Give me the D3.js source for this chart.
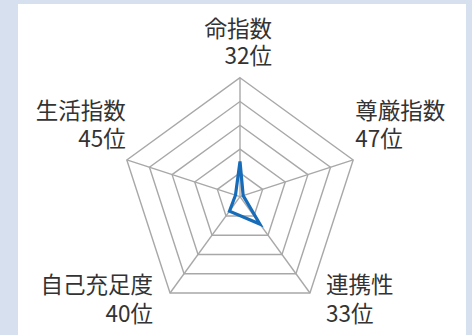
<!DOCTYPE html>
<html>
<head>
<meta charset="utf-8">
<script src="https://cdn.jsdelivr.net/npm/d3@7"></script>
<style>
  html, body { margin: 0; padding: 0; background: #d6e0ee; }
  svg { display: block; }
</style>
</head>
<body>
<svg id="RadarChart"></svg>
<script>
// data
const axes = ["命指数", "尊厳指数", "連携性", "自己充足度", "生活指数"];
const ranks = [32, 47, 33, 40, 45];
const scores = [14.8, 1.4, 14.2, 7.5, 2];
const levels = [10, 20, 30, 40, 50];

const width = 472, height = 335;
const cx = 240, cy = 196.7, R = 119;

const svg = d3.select("#RadarChart")
    .attr("width", width)
    .attr("height", height);

svg.append("rect")
    .attr("x", 18).attr("y", 4)
    .attr("width", 448).attr("height", height)
    .attr("fill", "#fff");

const r = d3.scaleLinear().domain([0, 50]).range([0, R]);
const angle = i => i * 2 * Math.PI / axes.length;
const pt = (i, v) => [cx + r(v) * Math.sin(angle(i)), cy - r(v) * Math.cos(angle(i))];

const g = svg.append("g");

// grid pentagons
g.selectAll("polygon.grid")
    .data(levels)
    .join("polygon")
    .attr("class", "grid")
    .attr("points", lv => axes.map((a, i) => pt(i, lv).join(",")).join(" "))
    .attr("fill", "none")
    .attr("stroke", "#a8a8a8")
    .attr("stroke-width", 1.4);

// spokes
g.selectAll("line.spoke")
    .data(axes)
    .join("line")
    .attr("class", "spoke")
    .attr("x1", cx).attr("y1", cy)
    .attr("x2", (d, i) => pt(i, 50)[0])
    .attr("y2", (d, i) => pt(i, 50)[1])
    .attr("stroke", "#a8a8a8")
    .attr("stroke-width", 1.4);

// data polygon
const line = d3.lineRadial()
    .angle((d, i) => angle(i))
    .radius(d => r(d))
    .curve(d3.curveLinearClosed);

g.append("path")
    .attr("transform", `translate(${cx},${cy})`)
    .attr("d", line(scores))
    .attr("fill", "none")
    .attr("stroke", "#166cb8")
    .attr("stroke-width", 3.2)
    .attr("stroke-linejoin", "miter");

// label offsets from outer vertex: [dx, name dy, rank dy, anchor]
const labelPos = [
    [32, -41, -14, "end"],
    [2, -41, -12.5, "start"],
    [16, 0.5, 29, "start"],
    [-17, 0.5, 29, "end"],
    [-1, -41, -12.5, "end"]
];

const labels = svg.append("g")
    .style("font-family", "'Noto Sans CJK JP', 'Noto Sans', sans-serif")
    .style("font-size", "22.5px")
    .attr("fill", "#333");

axes.forEach((a, i) => {
    const [vx, vy] = pt(i, 50);
    const [dx, dy1, dy2, anchor] = labelPos[i];
    const t = labels.append("text")
        .attr("text-anchor", anchor);
    t.append("tspan")
        .attr("x", vx + dx).attr("y", vy + dy1)
        .text(a);
    t.append("tspan")
        .attr("x", vx + dx).attr("y", vy + dy2)
        .text(ranks[i] + "位");
});
</script>
</body>
</html>
